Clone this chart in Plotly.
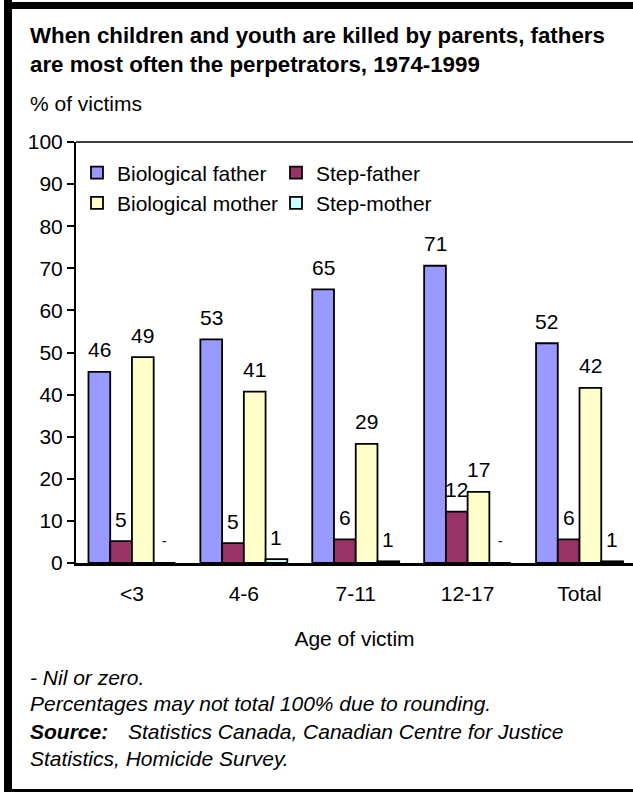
import plotly.graph_objects as go

# data
ages = ["<3", "4-6", "7-11", "12-17", "Total"]
bio_father = [45.4, 53.1, 65.0, 70.6, 52.2]
step_father = [5.2, 4.7, 5.6, 12.2, 5.6]
bio_mother = [48.9, 40.7, 28.3, 16.9, 41.6]
step_mother = [0.0, 0.9, 0.4, 0.0, 0.4]

bio_father_lbl = ["46", "53", "65", "71", "52"]
step_father_lbl = ["5", "5", "6", "12", "6"]
bio_mother_lbl = ["49", "41", "29", "17", "42"]
step_mother_lbl = ["-", "1", "1", "-", "1"]

W, H = 633, 792
L, R, T, B = 76, 633, 142, 563   # plot area in px


def px(x):
    return (x - L) / (R - L)


def py(y):
    return (B - y) / (B - T)


FONT = "Liberation Sans, Arial, sans-serif"
BARGAP = 0.223

series = [
    ("Biological father", bio_father, bio_father_lbl, "#9999FF"),
    ("Step-father", step_father, step_father_lbl, "#993366"),
    ("Biological mother", bio_mother, bio_mother_lbl, "#FFFFCC"),
    ("Step-mother", step_mother, step_mother_lbl, "#CCFFFF"),
]

fig = go.Figure()
annotations = []
bw = (1 - BARGAP) / len(series)
for i, (name, vals, lbls, col) in enumerate(series):
    fig.add_trace(go.Bar(
        x=ages, y=vals, name=name,
        marker=dict(color=col, line=dict(color="black", width=1.8)),
    ))
    for k, (v, t) in enumerate(zip(vals, lbls)):
        annotations.append(dict(
            x=k - (1 - BARGAP) / 2 + (i + 0.5) * bw, y=v, xref="x", yref="y",
            text=t, showarrow=False, yanchor="middle", yshift=22,
            font=dict(size=21 if t != "-" else 14, color="black"),
        ))

# title, subtitle and notes
annotations += [
    dict(x=px(28), y=py(49.5), xref="paper", yref="paper", xanchor="left", yanchor="middle",
         align="left", showarrow=False,
         text="<b>When children and youth are killed by parents, fathers<br>"
              "are most often the perpetrators, 1974-1999</b>",
         font=dict(size=22.3, color="black")),
    dict(x=px(28), y=py(104), xref="paper", yref="paper", xanchor="left", yanchor="middle",
         showarrow=False, text="% of victims", font=dict(size=21, color="black")),
    dict(x=px(28), y=py(677), xref="paper", yref="paper", xanchor="left", yanchor="middle",
         showarrow=False, text="<i>- Nil or zero.</i>", font=dict(size=21, color="black")),
    dict(x=px(28), y=py(703), xref="paper", yref="paper", xanchor="left", yanchor="middle",
         showarrow=False, text="<i>Percentages may not total 100% due to rounding.</i>",
         font=dict(size=21, color="black")),
    dict(x=px(28), y=py(731), xref="paper", yref="paper", xanchor="left", yanchor="middle",
         showarrow=False, text="<b><i>Source:</i></b>", font=dict(size=21, color="black")),
    dict(x=px(126), y=py(731), xref="paper", yref="paper", xanchor="left", yanchor="middle",
         showarrow=False, text="<i>Statistics Canada, Canadian Centre for Justice</i>",
         font=dict(size=21, color="black")),
    dict(x=px(28), y=py(758), xref="paper", yref="paper", xanchor="left", yanchor="middle",
         showarrow=False, text="<i>Statistics, Homicide Survey.</i>",
         font=dict(size=21, color="black")),
]

shapes = [
    # frame
    dict(type="rect", xref="paper", yref="paper", x0=px(4), x1=px(12), y0=py(0), y1=py(792),
         fillcolor="black", line=dict(width=0)),
    dict(type="rect", xref="paper", yref="paper", x0=px(4), x1=px(640), y0=py(2), y1=py(9),
         fillcolor="black", line=dict(width=0)),
    dict(type="rect", xref="paper", yref="paper", x0=px(4), x1=px(640), y0=py(789), y1=py(792),
         fillcolor="black", line=dict(width=0)),
    # top edge of plot area
    dict(type="line", xref="paper", yref="paper", x0=0, x1=1, y0=1, y1=1,
         line=dict(color="black", width=1.5)),
]

fig.update_layout(
    width=W, height=H,
    margin=dict(l=L, r=W - R, t=T, b=H - B),
    paper_bgcolor="white", plot_bgcolor="white",
    font=dict(family=FONT, size=21, color="black"),
    barmode="group", bargap=BARGAP, bargroupgap=0,
    showlegend=True,
    legend=dict(orientation="h", x=px(77), xanchor="left", y=py(152.5), yanchor="top",
                entrywidth=154, font=dict(size=21), bgcolor="rgba(0,0,0,0)",
                traceorder="normal"),
    annotations=annotations,
    shapes=shapes,
)
fig.update_xaxes(
    type="category", range=[-0.5, 4.478],
    showline=True, linecolor="black", linewidth=3, ticks="",
    showgrid=False, ticklabelstandoff=10,
    title=dict(text="Age of victim", standoff=28, font=dict(size=21)),
)
fig.update_yaxes(
    range=[0, 100], dtick=10, showgrid=False, zeroline=False,
    showline=True, linecolor="black", linewidth=2,
    ticks="outside", ticklen=7, tickcolor="black", tickwidth=1.5,
)

# drop the page's default body margin so the figure sits at the window origin
fig.write_html("out.html", config={"displayModeBar": False},
               post_script="document.body.style.margin='0';")
